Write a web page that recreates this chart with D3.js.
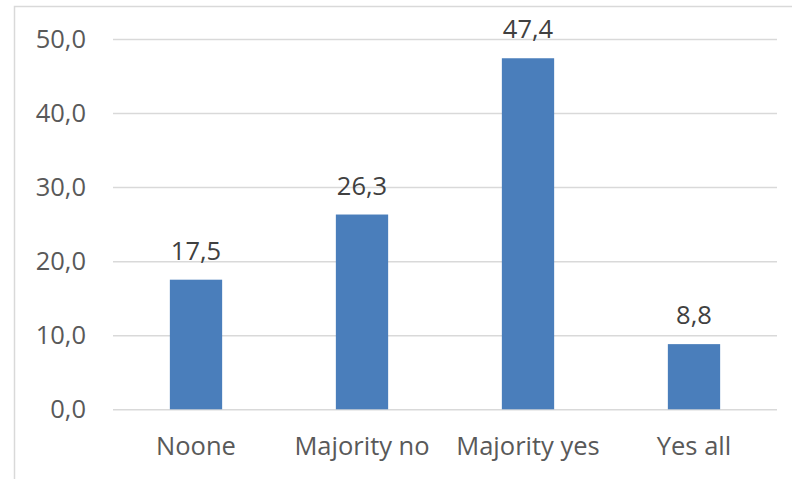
<!DOCTYPE html>
<html>
<head>
<meta charset="utf-8">
<script src="https://cdn.jsdelivr.net/npm/d3@7"></script>
<style>
  html, body { margin: 0; padding: 0; background: #ffffff; }
  svg { display: block; }
</style>
</head>
<body>
<svg id="chart" width="792" height="479"></svg>
<script>
// Share of responses per answer category
const categories = ["Noone", "Majority no", "Majority yes", "Yes all"];
const values = [17.5, 26.3, 47.4, 8.8];
const yTicks = [0, 10, 20, 30, 40, 50];

const W = 792, H = 479;
const plot = { left: 113, right: 777, top: 39, bottom: 409.3 };
const fontFamily = "'Open Sans', 'Noto Sans', sans-serif";
const textColor = "#595959";
const gridColor = "#d9d9d9";
const barColor = "#4a7ebb";

const fmt = v => v.toFixed(1).replace(".", ",");

const svg = d3.select("#chart");

// chart frame (only top and left edges fall inside the view)
svg.append("rect")
  .attr("x", 14.5).attr("y", 6.5)
  .attr("width", W + 20).attr("height", H + 20)
  .attr("fill", "#ffffff")
  .attr("stroke", gridColor).attr("stroke-width", 1.5);

const x = d3.scaleBand().domain(categories).range([plot.left, plot.right]).padding(0);
const y = d3.scaleLinear().domain([0, 50]).range([plot.bottom, plot.top]);

// horizontal gridlines + value axis labels
const yAxis = d3.axisLeft(y).tickValues(yTicks).tickFormat(fmt)
  .tickSize(-(plot.right - plot.left)).tickPadding(27);
const gy = svg.append("g").attr("transform", `translate(${plot.left},0)`).call(yAxis);
gy.select(".domain").remove();
gy.selectAll(".tick line").attr("stroke", gridColor).attr("stroke-width", 1.5);
gy.selectAll(".tick text")
  .attr("fill", textColor).attr("font-family", fontFamily).attr("font-size", 25.5);

// category axis labels
const xAxis = d3.axisBottom(x).tickSize(0).tickPadding(28);
const gx = svg.append("g").attr("transform", `translate(0,${plot.bottom})`).call(xAxis);
gx.select(".domain").remove();
gx.selectAll(".tick text")
  .attr("fill", textColor).attr("font-family", fontFamily).attr("font-size", 25.5);

// bars
const barW = x.bandwidth() * 0.315;
svg.append("g").selectAll("rect")
  .data(values)
  .join("rect")
  .attr("x", (d, i) => x(categories[i]) + (x.bandwidth() - barW) / 2)
  .attr("y", d => y(d))
  .attr("width", barW)
  .attr("height", d => y(0) - y(d))
  .attr("fill", barColor);

// value labels above bars
svg.append("g").selectAll("text")
  .data(values)
  .join("text")
  .attr("x", (d, i) => x(categories[i]) + x.bandwidth() / 2)
  .attr("y", d => y(d) - 20)
  .attr("text-anchor", "middle")
  .attr("fill", "#404040")
  .attr("font-family", fontFamily)
  .attr("font-size", 25.5)
  .text(fmt);
</script>
</body>
</html>
